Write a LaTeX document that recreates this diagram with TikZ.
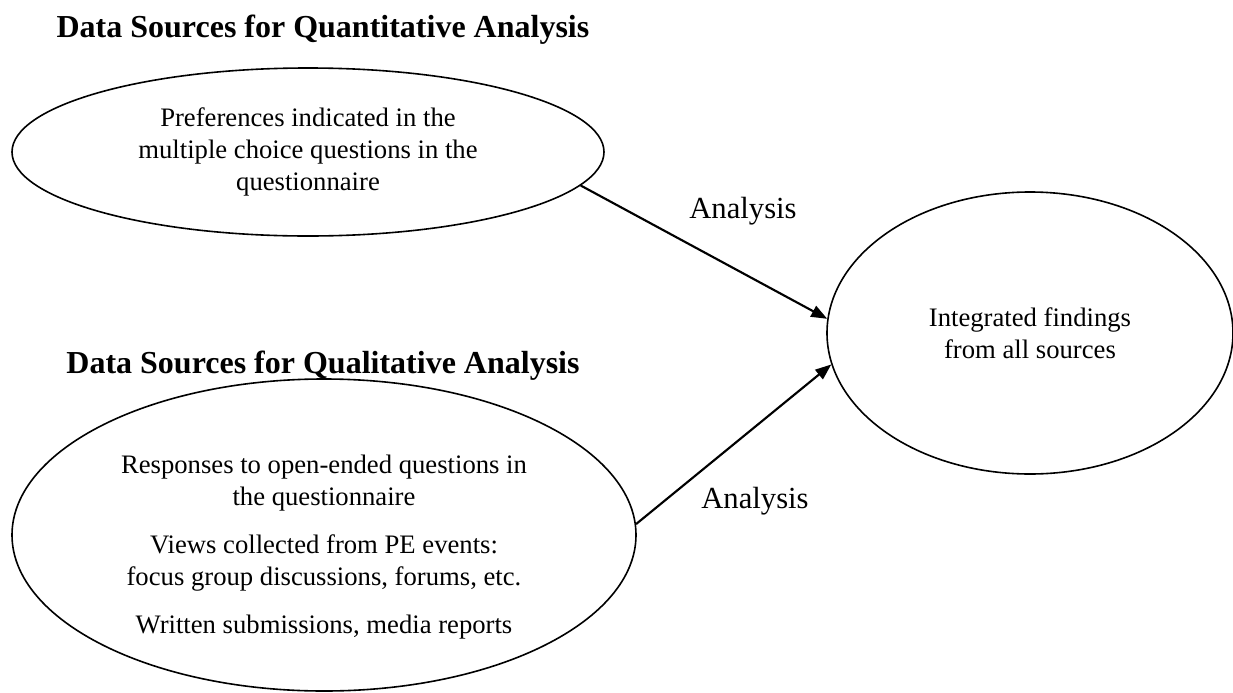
\documentclass[tikz,border=0pt]{standalone}
\usepackage{fontspec}
\setmainfont{Liberation Serif}
\usetikzlibrary{shapes.geometric,arrows.meta}

\tikzset{
  heading/.style={anchor=base,font=\fontsize{24}{28}\selectfont\bfseries},
  blob/.style={draw,ellipse,line width=1.2pt,inner sep=0pt,align=center,font=\fontsize{20}{24}\selectfont},
  flow/.style={-{Triangle[length=12pt,width=9pt]},line width=1.6pt},
  tag/.style={anchor=base,font=\fontsize{23}{27}\selectfont}
}

\begin{document}
\begin{tikzpicture}[x=0.75pt,y=-0.75pt]
\useasboundingbox (0,0) rectangle (1233,693);

\node[heading] (quanthead) at (323,37) {Data Sources for Quantitative Analysis};
\node[blob,minimum width=444pt,minimum height=126pt] (quant) at (308,152)
  {Preferences indicated in the\\multiple choice questions in the\\questionnaire};

\node[blob,minimum width=304.5pt,minimum height=211.5pt] (synth) at (1030,333)
  {Integrated findings\\from all sources};

\node[heading] (qualhead) at (323,373) {Data Sources for Qualitative Analysis};
% strut on the first line pushes the text a little lower in the ellipse
\node[blob,minimum width=468pt,minimum height=234pt] (qual) at (324,535)
  {\rule{0pt}{32pt}Responses to open-ended questions in\\the questionnaire\\[12pt]
   Views collected from PE events:\\focus group discussions, forums, etc.\\[12pt]
   Written submissions, media reports};

\draw[flow] (quant.-7.7) -- (synth.176.7);
\draw[flow] (qual.2.2) -- (synth.-171);

\node[tag] (tagA) at (743,218) {Analysis};
\node[tag] (tagB) at (755,508) {Analysis};
\end{tikzpicture}
\end{document}
